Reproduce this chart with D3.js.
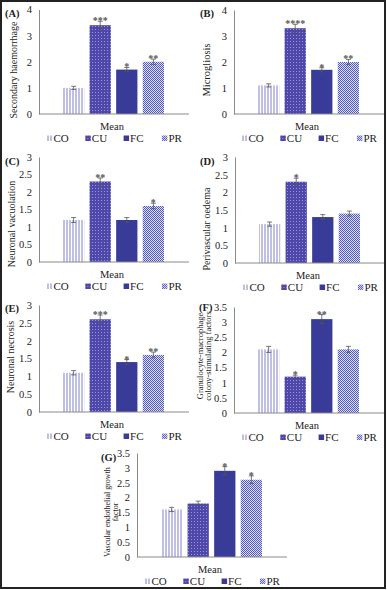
<!DOCTYPE html>
<html>
<head>
<meta charset="utf-8">
<script src="https://cdn.jsdelivr.net/npm/d3@7"></script>
<style>
  body { margin: 0; background: #fff; }
  svg { display: block; }
</style>
</head>
<body>
<div id="chart"></div>
<script>
// groups (legend / bar order)
const groups = ["CO", "CU", "FC", "PR"];

// mean scores per panel
const haemorrhage    = [1.0, 3.4, 1.7, 2.0];
const haemorrhageErr = [0.06, 0.15, 0.08, 0.1];
const haemorrhageSig = ["", "***", "*", "**"];

const microgliosis    = [1.1, 3.3, 1.7, 2.0];
const microgliosisErr = [0.06, 0.15, 0.08, 0.1];
const microgliosisSig = ["", "****", "*", "**"];

const vacuolation    = [1.2, 2.3, 1.2, 1.6];
const vacuolationErr = [0.07, 0.1, 0.07, 0.08];
const vacuolationSig = ["", "**", "", "*"];

const oedema    = [1.1, 2.3, 1.3, 1.4];
const oedemaErr = [0.06, 0.1, 0.07, 0.07];
const oedemaSig = ["", "*", "", ""];

const necrosis    = [1.1, 2.6, 1.4, 1.6];
const necrosisErr = [0.06, 0.12, 0.07, 0.08];
const necrosisSig = ["", "***", "*", "**"];

const gmcsf    = [2.1, 1.2, 3.1, 2.1];
const gmcsfErr = [0.1, 0.05, 0.15, 0.1];
const gmcsfSig = ["", "*", "**", ""];

const vegf    = [1.6, 1.8, 2.9, 2.6];
const vegfErr = [0.07, 0.08, 0.14, 0.13];
const vegfSig = ["", "", "*", "*"];

const yTicks4  = [0, 1, 2, 3, 4];
const yTicks3  = [0, 0.5, 1, 1.5, 2, 2.5, 3];
const yTicks35 = [0, 0.5, 1, 1.5, 2, 2.5, 3, 3.5];

// panel layout
const panels = [
  {tag: "(A)", title: ["Secondary haemorrhage"], vals: haemorrhage, err: haemorrhageErr, sig: haemorrhageSig,
   ticks: yTicks4, ax: 39, y0: 114, y1: 9.5, lx: 5, ly: 17, tx: -26, ty: 70, tfs: 10},
  {tag: "(B)", title: ["Microgliosis"], vals: microgliosis, err: microgliosisErr, sig: microgliosisSig,
   ticks: yTicks4, ax: 234, y0: 114, y1: 10, lx: 200, ly: 17, tx: -28, ty: 70, tfs: 10.5},
  {tag: "(C)", title: ["Neuronal vacuolation"], vals: vacuolation, err: vacuolationErr, sig: vacuolationSig,
   ticks: yTicks3, ax: 39, y0: 262, y1: 157, lx: 5, ly: 165, tx: -28, ty: 224, tfs: 10},
  {tag: "(D)", title: ["Perivascular oedema"], vals: oedema, err: oedemaErr, sig: oedemaSig,
   ticks: yTicks3, ax: 235, y0: 263, y1: 157, lx: 200, ly: 165, tx: -29, ty: 229, tfs: 10},
  {tag: "(E)", title: ["Neuronal necrosis"], vals: necrosis, err: necrosisErr, sig: necrosisSig,
   ticks: yTicks3, ax: 39, y0: 412, y1: 305, lx: 5, ly: 312, tx: -29, ty: 357, tfs: 10},
  {tag: "(F)", title: ["Granulocyte-macrophage", "colony-stimulating factors"], vals: gmcsf, err: gmcsfErr, sig: gmcsfSig,
   ticks: yTicks35, ax: 234, y0: 413, y1: 307, lx: 199, ly: 311, tx: -34, ty: 356, tfs: 8.5},
  {tag: "(G)", title: ["Vascular endothelial growth", "factor"], vals: vegf, err: vegfErr, sig: vegfSig,
   ticks: yTicks35, ax: 137, y0: 557, y1: 453, lx: 101, ly: 461, tx: -30, ty: 512, tfs: 8}
];

const W = 387, H = 590;
const font = "Liberation Serif";
const axisCol = "#8a8a8a";

const svg = d3.select("#chart").append("svg")
    .attr("width", W)
    .attr("height", H);

// fill patterns
const defs = svg.append("defs");

const pCO = defs.append("pattern").attr("id", "pat-CO")
    .attr("patternUnits", "userSpaceOnUse").attr("width", 3).attr("height", 3);
pCO.append("rect").attr("width", 3).attr("height", 3).attr("fill", "#ffffff");
pCO.append("rect").attr("width", 2).attr("height", 3).attr("fill", "#bfbfe5");

const pCU = defs.append("pattern").attr("id", "pat-CU")
    .attr("patternUnits", "userSpaceOnUse").attr("width", 3).attr("height", 3);
pCU.append("rect").attr("width", 3).attr("height", 3).attr("fill", "#4f48ab");
pCU.append("rect").attr("x", 2).attr("y", 2).attr("width", 1).attr("height", 1).attr("fill", "#9b96d8");

const pPR = defs.append("pattern").attr("id", "pat-PR")
    .attr("patternUnits", "userSpaceOnUse").attr("width", 2).attr("height", 2);
pPR.append("rect").attr("width", 2).attr("height", 2).attr("fill", "#dcdef4");
pPR.append("rect").attr("width", 1).attr("height", 1).attr("fill", "#525abf");
pPR.append("rect").attr("x", 1).attr("y", 1).attr("width", 1).attr("height", 1).attr("fill", "#525abf");

const fills = {CO: "url(#pat-CO)", CU: "url(#pat-CU)", FC: "#383b98", PR: "url(#pat-PR)"};

panels.forEach(function(p) {
  const g = svg.append("g");

  const y = d3.scaleLinear()
      .domain([0, d3.max(p.ticks)])
      .range([p.y0, p.y1]);

  const x = d3.scaleBand()
      .domain(groups)
      .range([p.ax + 24, p.ax + 125])
      .paddingInner(0.2)
      .paddingOuter(0);

  const rows = groups.map(function(k, i) {
    return {key: k, v: p.vals[i], e: p.err[i], s: p.sig[i]};
  });

  // y axis (line + labels, no ticks)
  const yAxis = d3.axisLeft(y)
      .tickValues(p.ticks)
      .tickSize(0)
      .tickPadding(7)
      .tickFormat(d3.format("~g"));

  const ya = g.append("g")
      .attr("transform", "translate(" + p.ax + ",0)")
      .call(yAxis);
  ya.select(".domain").attr("stroke", axisCol);
  ya.selectAll("text")
      .attr("font-family", font)
      .attr("font-size", 10.5)
      .attr("fill", "#222");

  // bars
  g.selectAll(".bar")
      .data(rows)
    .enter().append("rect")
      .attr("class", "bar")
      .attr("x", function(d) { return x(d.key); })
      .attr("y", function(d) { return y(d.v); })
      .attr("width", x.bandwidth())
      .attr("height", function(d) { return y(0) - y(d.v); })
      .attr("fill", function(d) { return fills[d.key]; });

  // error bars
  const eb = g.selectAll(".err")
      .data(rows)
    .enter().append("g")
      .attr("class", "err")
      .attr("stroke", "#555")
      .attr("stroke-width", 0.8);
  eb.append("line")
      .attr("x1", function(d) { return x(d.key) + x.bandwidth() / 2; })
      .attr("x2", function(d) { return x(d.key) + x.bandwidth() / 2; })
      .attr("y1", function(d) { return y(d.v - d.e); })
      .attr("y2", function(d) { return y(d.v + d.e); });
  [-1, 1].forEach(function(sgn) {
    eb.append("line")
        .attr("x1", function(d) { return x(d.key) + x.bandwidth() / 2 - 2.5; })
        .attr("x2", function(d) { return x(d.key) + x.bandwidth() / 2 + 2.5; })
        .attr("y1", function(d) { return y(d.v + sgn * d.e); })
        .attr("y2", function(d) { return y(d.v + sgn * d.e); });
  });

  // significance stars
  g.selectAll(".sig")
      .data(rows.filter(function(d) { return d.s; }))
    .enter().append("text")
      .attr("class", "sig")
      .attr("x", function(d) { return x(d.key) + x.bandwidth() / 2; })
      .attr("y", function(d) { return y(d.v + d.e) + 3; })
      .attr("text-anchor", "middle")
      .attr("font-family", font)
      .attr("font-size", 10)
      .attr("font-weight", "bold")
      .attr("fill", "#555")
      .text(function(d) { return d.s; });

  // x axis line
  g.append("line")
      .attr("x1", p.ax)
      .attr("x2", p.ax + 150)
      .attr("y1", p.y0)
      .attr("y2", p.y0)
      .attr("stroke", axisCol)
      .attr("stroke-width", 1);

  g.append("text")
      .attr("x", p.ax + 73)
      .attr("y", p.y0 + 16)
      .attr("text-anchor", "middle")
      .attr("font-family", font)
      .attr("font-size", 10.5)
      .attr("fill", "#222")
      .text("Mean");

  // legend
  const lg = g.selectAll(".leg")
      .data(groups)
    .enter().append("g")
      .attr("class", "leg")
      .attr("transform", function(d, i) {
        return "translate(" + (p.ax + 8 + i * 38.3) + "," + (p.y0 + 28) + ")";
      });
  lg.append("rect")
      .attr("x", 0)
      .attr("y", -6.5)
      .attr("width", 5.5)
      .attr("height", 5.5)
      .attr("fill", function(d) { return fills[d]; });
  lg.append("text")
      .attr("x", 6.5)
      .attr("y", 0)
      .attr("font-family", font)
      .attr("font-size", 11)
      .attr("fill", "#222")
      .text(function(d) { return d; });

  // axis title
  const tt = g.append("text")
      .attr("transform", "translate(" + (p.ax + p.tx) + "," + p.ty + ") rotate(-90)")
      .attr("text-anchor", "middle")
      .attr("font-family", font)
      .attr("font-size", p.tfs)
      .attr("fill", "#222");
  p.title.forEach(function(line, i) {
    tt.append("tspan")
        .attr("x", 0)
        .attr("dy", i === 0 ? "0.35em" : "1em")
        .text(line);
  });

  // panel tag
  g.append("text")
      .attr("x", p.lx)
      .attr("y", p.ly)
      .attr("font-family", font)
      .attr("font-size", 10.5)
      .attr("font-weight", "bold")
      .attr("fill", "#222")
      .text(p.tag);
});

// outer frame
svg.append("rect")
    .attr("x", 1)
    .attr("y", 1)
    .attr("width", W - 3)
    .attr("height", H - 3)
    .attr("fill", "none")
    .attr("stroke", "#222")
    .attr("stroke-width", 2);
</script>
</body>
</html>
